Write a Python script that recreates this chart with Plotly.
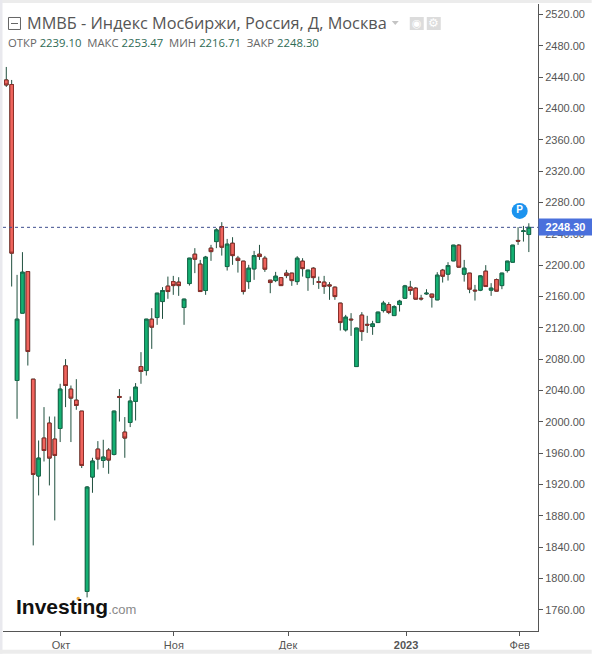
import plotly.graph_objects as go

highs = [2453.1,2436.5,2187.6,2216.6,2191.8,2054.4,1976.1,2018.7,2006.7,2006.7,2048.5,2080.0,2046.3,2054.4,2013.6,1917.9,1954.0,1975.3,1977.0,1966.4,
         2014.0,2041.7,2006.0,2032.3,2049.4,2088.9,2131.4,2145.1,2164.6,2171.9,2185.4,2186.3,2184.6,2157.0,2209.3,2221.7,2206.7,2211.8,2225.9,2247.2,
         2254.9,2233.5,2235.7,2211.8,2205.5,2200.4,2218.2,2225.9,2211.8,2181.2,2191.4,2184.1,2194.0,2190.1,2211.5,2208.9,2194.0,2197.4,2185.4,2186.3,
         2178.3,2172.7,2151.9,2136.5,2138.7,2120.0,2140.0,2135.3,2128.9,2140.4,2154.4,2152.7,2148.9,2155.7,2174.8,2179.9,2171.9,2162.1,2169.3,2163.3,
         2191.0,2195.2,2203.8,2225.9,2226.8,2206.7,2190.1,2174.8,2187.2,2200.0,2177.0,2182.9,2190.1,2205.5,2225.9,2248.5,2250.1,2253.47]
opens = [2436.5,2430.7,2052.7,2138.7,2191.8,2054.4,1930.7,1979.2,1998.3,1977.9,1991.4,2071.4,2041.7,2027.6,2013.6,1783.3,1929.4,1965.1,1950.6,1963.8,
         1958.2,2032.3,1986.8,1999.1,2026.0,2070.5,2065.4,2131.0,2133.1,2153.5,2173.2,2179.0,2178.3,2145.9,2176.5,2214.0,2201.3,2167.6,2221.7,2230.1,
         2249.2,2198.2,2228.0,2208.9,2205.1,2179.0,2195.2,2214.0,2208.9,2180.8,2180.3,2184.1,2189.8,2189.8,2179.0,2205.1,2184.1,2196.1,2179.0,2178.3,
         2174.8,2171.9,2151.5,2117.4,2131.0,2070.5,2136.2,2124.4,2121.6,2126.7,2142.0,2149.7,2135.6,2149.7,2157.8,2171.9,2170.6,2157.7,2163.3,2163.0,
         2155.7,2193.6,2188.5,2205.5,2225.5,2188.5,2189.8,2168.0,2168.1,2192.3,2168.1,2181.6,2173.9,2193.1,2203.8,2231.6,2243.0,2239.10]
closes = [2430.1,2215.3,2131.0,2191.0,2089.7,1932.7,1953.6,1963.3,1953.6,1957.0,2041.7,2046.3,2030.2,2020.8,1944.2,1916.6,1949.8,1952.4,1954.9,1951.1,
          2013.6,2031.2,1979.2,2026.4,2044.2,2064.2,2131.0,2120.8,2164.2,2167.6,2166.3,2173.9,2173.9,2156.6,2208.9,2207.6,2166.3,2210.2,2217.3,2245.0,
          2222.9,2226.8,2212.2,2205.9,2166.3,2196.1,2212.2,2211.0,2194.9,2177.8,2185.9,2173.9,2186.7,2180.3,2208.9,2195.6,2193.6,2184.1,2178.0,2172.7,
          2173.6,2159.9,2126.7,2133.6,2130.2,2119.6,2115.2,2123.5,2125.0,2140.0,2151.5,2139.5,2147.1,2154.0,2173.5,2167.6,2156.6,2157.0,2164.1,2159.1,
          2187.2,2185.9,2199.5,2225.5,2197.4,2196.1,2169.3,2167.2,2186.3,2172.7,2170.6,2166.8,2189.8,2205.1,2225.5,2230.7,2243.7,2248.30]
lows = [2427.6,2172.7,2003.8,2138.7,2071.8,1842.1,1905.9,1949.3,1918.7,1874.0,1974.1,2018.7,1974.1,2015.3,1940.9,1775.7,1909.3,1939.1,1941.2,1933.6,
        1957.0,2000.3,1954.0,1993.2,2001.6,2048.5,2059.0,2093.1,2123.8,2131.4,2157.0,2162.1,2160.8,2123.8,2173.9,2189.8,2166.3,2162.1,2205.5,2221.7,
        2212.2,2193.1,2200.4,2190.5,2162.5,2169.7,2181.2,2206.7,2191.4,2164.2,2178.3,2173.9,2183.4,2173.6,2174.8,2185.4,2167.2,2174.8,2169.7,2163.3,
        2155.7,2155.7,2116.5,2115.2,2109.7,2070.2,2103.3,2113.5,2111.0,2126.3,2139.5,2137.4,2135.3,2140.8,2157.5,2162.1,2156.2,2154.8,2162.1,2145.8,
        2155.3,2177.8,2180.3,2205.1,2197.0,2179.0,2164.2,2154.8,2166.8,2172.3,2160.8,2166.4,2169.3,2190.5,2203.4,2225.9,2230.1,2216.71]
candle_index = list(range(len(opens)))

month_ticks = [10.15, 31.1, 52.3, 74.2, 95.3]
month_labels = ["Окт", "Ноя", "Дек", "<b>2023</b>", "Фев"]
price_ticks = list(range(1760, 2521, 40))
price_labels = [f"{p:.2f}" for p in price_ticks]
last_close = 2248.30
marker_pos = (95.3, 2269.3)

PL, PR, PT, PB = 3, 538.3, 4, 631.3
W, H = 592, 654
def px(x): return (x - PL) / (PR - PL)
def py(y): return 1 - (y - PT) / (PB - PT)

WICK = "#20503f"
FILL_UP, FILL_DOWN = "#14b072", "#f0655e"
fig = go.Figure()
fig.add_trace(go.Candlestick(
    x=candle_index, open=opens, high=highs, low=lows, close=closes,
    increasing=dict(line=dict(color=WICK, width=1), fillcolor=FILL_UP),
    decreasing=dict(line=dict(color=WICK, width=1), fillcolor=FILL_DOWN),
    whiskerwidth=0, showlegend=False, hoverinfo="skip"))
# Bodies again on top of the wicks, so the outline can differ from the wick colour.
fig.add_trace(go.Candlestick(
    x=candle_index, open=opens, close=closes,
    high=[max(o, c) for o, c in zip(opens, closes)],
    low=[min(o, c) for o, c in zip(opens, closes)],
    increasing=dict(line=dict(color="#176b4c", width=1), fillcolor=FILL_UP),
    decreasing=dict(line=dict(color="#8a2e2a", width=1), fillcolor=FILL_DOWN),
    whiskerwidth=0, showlegend=False, hoverinfo="skip"))
fig.add_trace(go.Scatter(
    x=[marker_pos[0]], y=[marker_pos[1]], mode="markers+text",
    marker=dict(size=16, color="#1c93ee"), text=["<b>P</b>"], textposition="middle center",
    textfont=dict(color="white", size=10, family="Liberation Sans"), showlegend=False, hoverinfo="skip"))

shapes = [
    dict(type="line", xref="paper", yref="y", x0=0, x1=1, y0=last_close, y1=last_close,
         line=dict(color="#3f4f8f", width=1, dash="dot"), layer="above"),
]
def rect(x0, y0, x1, y1, fill, line=None):
    shapes.append(dict(type="rect", xref="paper", yref="paper", x0=px(x0), x1=px(x1), y0=py(y0), y1=py(y1),
                       fillcolor=fill, line=dict(color=line or fill, width=1 if line else 0), layer="above"))
rect(0, 0, W, 3, "#ececec")
rect(0, 0, 2.5, H, "#e9e9ee")
rect(0, 650, W, H, "#ececec")
rect(8.5, 17.5, 20.5, 29.5, "rgba(0,0,0,0)", "#666666")
rect(11, 23, 18, 24, "#666666")
rect(410, 17, 424, 30, "#dcdcdc")
rect(427, 17, 441, 30, "#dcdcdc")
shapes.append(dict(type="path", xref="paper", yref="paper",
                   path=f"M {px(392)} {py(21)} L {px(399)} {py(21)} L {px(395.5)} {py(25)} Z",
                   fillcolor="#c4c4c4", line=dict(width=0)))
shapes.append(dict(type="circle", xref="paper", yref="paper", x0=px(76.5), x1=px(80), y0=py(597), y1=py(600.5),
                   fillcolor="#eea83a", line=dict(width=0), layer="above"))

GREEN = "#2f6b55"
def val(label, number):
    return f"{label} <span style='color:{GREEN}'>{number}</span>"
subtitle = "&nbsp;&nbsp;".join([val("ОТКР", "2239.10"), val("МАКС", "2253.47"), val("МИН", "2216.71"), val("ЗАКР", "2248.30")])

def note(x, y, text, size, color, family="Open Sans", **kw):
    return dict(xref="paper", yref="paper", x=px(x), y=py(y), text=text, showarrow=False,
                xanchor=kw.pop("xanchor", "left"), yanchor="middle",
                font=dict(size=size, color=color, family=family), **kw)

annotations = [
    note(25.5, 23, "ММВБ - Индекс Мосбиржи, Россия, Д, Москва", 16.3, "#555555"),
    note(6, 42.5, subtitle, 11.3, "#666666"),
    note(417, 23.5, "◉", 11, "white", family="DejaVu Sans", xanchor="center"),
    note(434, 23.5, "⚙", 12, "white", family="DejaVu Sans", xanchor="center"),
    note(14, 607, "<b>Investing</b><span style='font-size:13px;color:#8a8a8a'>.com</span>", 21, "#111111", family="Liberation Sans"),
    dict(xref="paper", yref="y", x=1.0, y=last_close, xanchor="left", yanchor="middle", text="<b>2248.30</b>",
         showarrow=False, width=51, height=14, align="center", bgcolor="#4a70dc",
         font=dict(size=11, color="white", family="Liberation Sans")),
]

fig.update_layout(
    width=W, height=H, margin=dict(l=PL, r=W - PR, t=PT, b=H - PB, pad=0),
    paper_bgcolor="white", plot_bgcolor="white", showlegend=False, boxgap=0.05,
    shapes=shapes, annotations=annotations,
    xaxis=dict(range=[-0.61, 98.7], tickmode="array", tickvals=month_ticks, ticktext=month_labels,
               rangeslider=dict(visible=False), showgrid=False, zeroline=False, showline=True, linecolor="#555555",
               linewidth=1, ticks="outside", ticklen=4, tickcolor="#555555",
               tickfont=dict(size=11, color="#555555", family="Liberation Sans")),
    yaxis=dict(range=[1732.8, 2533.5], side="right", tickmode="array", tickvals=price_ticks, ticktext=price_labels,
               showgrid=False, zeroline=False, showline=True, linecolor="#555555", linewidth=1,
               ticks="outside", ticklen=4, tickcolor="#555555",
               tickfont=dict(size=11, color="#555555", family="Liberation Sans")),
)
fig.write_html("out.html", config=dict(displayModeBar=False),
               post_script="document.body.style.margin='0';document.documentElement.style.overflow='hidden';")
